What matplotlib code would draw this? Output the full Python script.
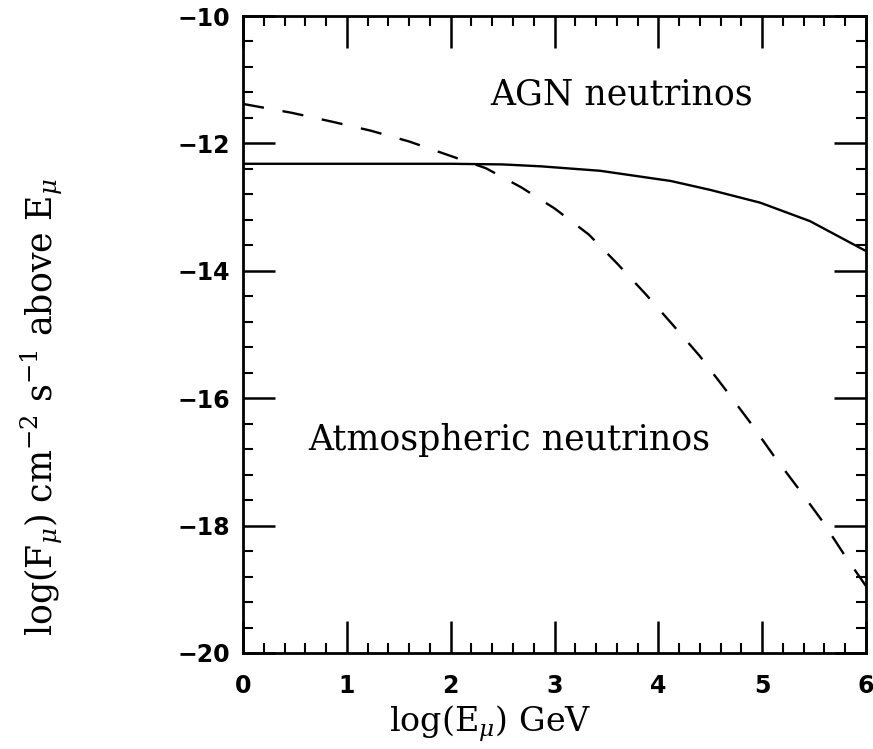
import matplotlib
matplotlib.use("Agg")
import matplotlib.pyplot as plt
from matplotlib.ticker import MultipleLocator

# Data
agn_x = [0.0, 0.5, 1.0, 1.5, 2.0, 2.5, 2.87, 3.44, 4.12, 4.5, 4.98, 5.46, 6.0]
agn_y = [-12.32, -12.32, -12.32, -12.32, -12.32, -12.33, -12.36, -12.43, -12.59, -12.73, -12.93, -13.22, -13.69]

atm_x = [0.0, 0.47, 0.86, 1.23, 1.6, 1.97, 2.34, 2.68, 3.0, 3.33, 3.6, 3.88, 4.14,
         4.4, 4.64, 4.88, 5.11, 5.35, 5.58, 5.8, 6.0]
atm_y = [-11.38, -11.52, -11.66, -11.80, -11.97, -12.18, -12.39, -12.69, -13.02, -13.43,
         -13.88, -14.37, -14.85, -15.34, -15.85, -16.37, -16.9, -17.42, -17.93, -18.48, -18.95]

x_ticks = [0, 1, 2, 3, 4, 5, 6]
y_ticks = [-20, -18, -16, -14, -12, -10]

plt.rcParams['mathtext.fontset'] = 'dejavuserif'

fig = plt.figure(figsize=(8.73, 7.49), dpi=100)
ax = fig.add_axes([243/873, 1 - 653/749, (866 - 243)/873, (653 - 16)/749])

ax.plot(agn_x, agn_y, color='black', lw=1.7, solid_capstyle='butt')
ax.plot(atm_x, atm_y, color='black', lw=1.7, dashes=(9, 8))

ax.set_xlim(0, 6)
ax.set_ylim(-20, -10)
ax.set_xticks(x_ticks)
ax.set_yticks(y_ticks)
ax.xaxis.set_minor_locator(MultipleLocator(0.2))
ax.yaxis.set_minor_locator(MultipleLocator(0.4))

for s in ax.spines.values():
    s.set_linewidth(2.0)

ax.tick_params(which='both', direction='in', top=True, right=True, color='black')
ax.tick_params(which='major', length=23, width=1.8)
ax.tick_params(which='minor', length=7, width=1.5)
ax.tick_params(axis='x', which='major', pad=15)
ax.tick_params(axis='y', which='major', pad=9)

for lab in ax.get_xticklabels() + ax.get_yticklabels():
    lab.set_fontfamily('DejaVu Sans')
    lab.set_fontweight('bold')
    lab.set_fontsize(17)

ax.text(2.38, -11.24, 'AGN neutrinos', family='DejaVu Serif', fontsize=25,
        ha='left', va='center')
ax.text(0.63, -16.66, 'Atmospheric neutrinos', family='DejaVu Serif', fontsize=25,
        ha='left', va='center')

fig.text(490/873, 1 - 724/749, r'log(E$_\mu$) GeV', family='DejaVu Serif',
         fontsize=24, ha='center', va='center')
fig.text(42/873, 1 - 407/749, r'log(F$_\mu$) cm$^{-2}$ s$^{-1}$ above E$_\mu$',
         family='DejaVu Serif', fontsize=25, ha='center', va='center', rotation=90)

fig.savefig('out.png', dpi=100)
